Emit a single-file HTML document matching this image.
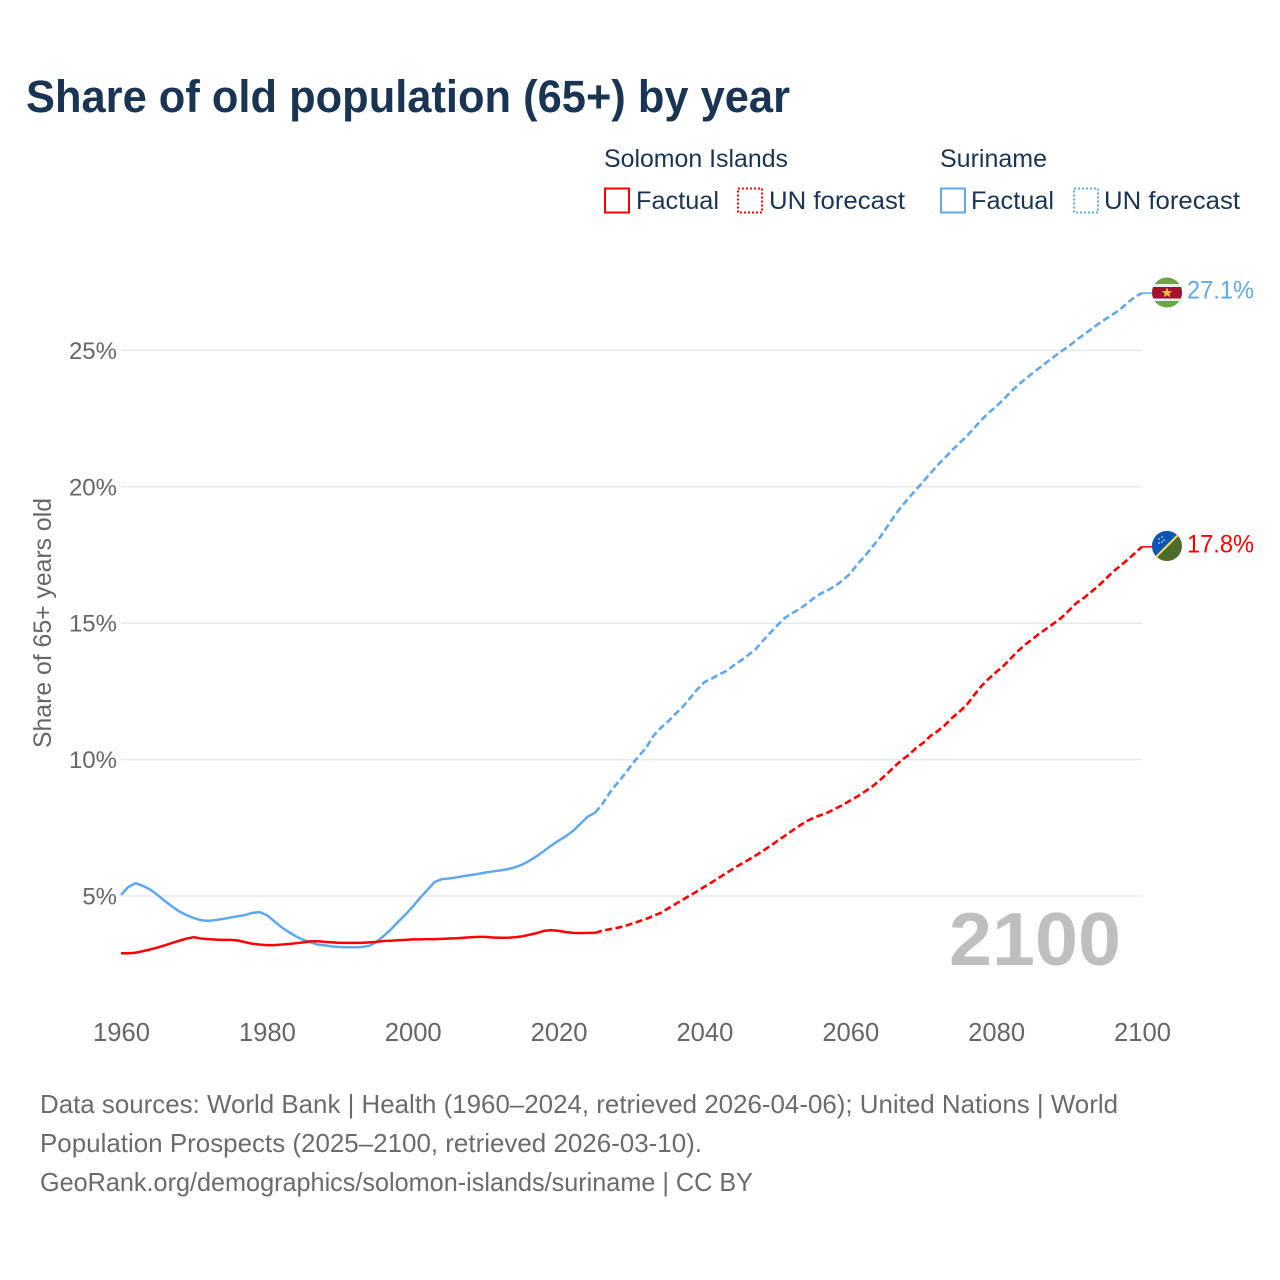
<!DOCTYPE html>
<html lang="en">
<head>
<meta charset="utf-8">
<title>Share of old population (65+) by year</title>
<style>
html,body{margin:0;padding:0;background:#fff;}
svg{display:block;font-family:"Liberation Sans",sans-serif;}
</style>
</head>
<body>
<svg id="chart" xmlns="http://www.w3.org/2000/svg" width="1280" height="1280" viewBox="0 0 1280 1280">
  <rect width="1280" height="1280" fill="#fff"/>
  <text x="26" y="112" font-size="45" font-weight="700" fill="#1a3454" textLength="764" lengthAdjust="spacingAndGlyphs">Share of old population (65+) by year</text>

  <g font-size="25" fill="#1a3454">
    <text x="604" y="167" textLength="184" lengthAdjust="spacingAndGlyphs">Solomon Islands</text>
    <rect x="605" y="188.5" width="24" height="24" fill="none" stroke="#ff0000" stroke-width="2"/>
    <text x="636" y="209" textLength="83" lengthAdjust="spacingAndGlyphs">Factual</text>
    <rect x="738" y="188.5" width="24" height="24" fill="none" stroke="#ff0000" stroke-width="2" stroke-dasharray="2 2"/>
    <text x="769" y="209" textLength="136" lengthAdjust="spacingAndGlyphs">UN forecast</text>
    <text x="940" y="167" textLength="107" lengthAdjust="spacingAndGlyphs">Suriname</text>
    <rect x="941" y="188.5" width="24" height="24" fill="none" stroke="#5fa8ee" stroke-width="2"/>
    <text x="971" y="209" textLength="83" lengthAdjust="spacingAndGlyphs">Factual</text>
    <rect x="1074" y="188.5" width="24" height="24" fill="none" stroke="#5fa8ee" stroke-width="2" stroke-dasharray="2 2"/>
    <text x="1104" y="209" textLength="136" lengthAdjust="spacingAndGlyphs">UN forecast</text>
  </g>

  <text transform="translate(51,748) rotate(-90)" font-size="25" fill="#666666" textLength="250" lengthAdjust="spacingAndGlyphs">Share of 65+ years old</text>

  <g id="grid"></g>
  <g id="yticks" font-size="24" fill="#666666" text-anchor="end"></g>
  <g id="xticks" font-size="25.6" fill="#666666" text-anchor="middle"></g>

  <text x="949" y="965" font-size="75" font-weight="700" fill="#bfbfbf" textLength="172" lengthAdjust="spacingAndGlyphs">2100</text>

  <g id="series" fill="none" stroke-linejoin="round"></g>

  <defs>
    <clipPath id="clip-sr"><circle id="clip-sr-c" cx="1167" cy="292.5" r="15"/></clipPath>
    <clipPath id="clip-sb"><circle id="clip-sb-c" cx="1167" cy="546" r="15"/></clipPath>
  </defs>

  <g clip-path="url(#clip-sr)">
    <rect x="1150" y="275" width="34" height="36" fill="#6ba544"/>
    <rect x="1150" y="284" width="34" height="17" fill="#ececec"/>
    <rect x="1150" y="287" width="34" height="11.5" fill="#a3102c"/>
    <polygon points="1167,287.5 1168.4,291.2 1172.3,291.2 1169.2,293.6 1170.3,297.3 1167,295.1 1163.7,297.3 1164.8,293.6 1161.7,291.2 1165.6,291.2" fill="#f5c838"/>
  </g>
  <g clip-path="url(#clip-sb)">
    <rect x="1150" y="529" width="34" height="34" fill="#4c6b2c"/>
    <polygon points="1150,529 1184,529 1150,563" fill="#0c55b5"/>
    <line x1="1153" y1="560" x2="1181" y2="532" stroke="#f2d75a" stroke-width="2.2"/>
    <g fill="#e8eef8">
      <circle cx="1159" cy="539" r="0.8"/><circle cx="1162" cy="537" r="0.8"/><circle cx="1164" cy="540" r="0.8"/>
      <circle cx="1159" cy="543" r="0.8"/><circle cx="1162" cy="542" r="0.8"/>
    </g>
  </g>

  <g font-size="26" fill="#6b6b6b">
    <text x="40" y="1113" textLength="1078" lengthAdjust="spacingAndGlyphs">Data sources: World Bank | Health (1960–2024, retrieved 2026-04-06); United Nations | World</text>
    <text x="40" y="1152" textLength="662" lengthAdjust="spacingAndGlyphs">Population Prospects (2025–2100, retrieved 2026-03-10).</text>
    <text x="40" y="1191" textLength="713" lengthAdjust="spacingAndGlyphs">GeoRank.org/demographics/solomon-islands/suriname | CC BY</text>
  </g>
</svg>

<script>
const xTickYears = [1960, 1980, 2000, 2020, 2040, 2060, 2080, 2100];
const yTickValues = [5, 10, 15, 20, 25];
const factualStartYear = 1960;
const forecastStartYear = 2025;

const solomonFactual = [2.90,2.90,2.92,2.98,3.04,3.11,3.19,3.28,3.36,3.44,3.49,3.44,3.42,3.40,3.39,3.39,3.37,3.31,3.25,3.22,3.20,3.20,3.22,3.24,3.27,3.30,3.34,3.34,3.32,3.30,3.28,3.28,3.28,3.28,3.30,3.32,3.35,3.36,3.38,3.39,3.41,3.41,3.42,3.42,3.43,3.44,3.45,3.47,3.49,3.50,3.50,3.48,3.47,3.47,3.49,3.52,3.58,3.64,3.72,3.75,3.72,3.68,3.65,3.64,3.65,3.65];

const surinameFactual = [5.04,5.33,5.47,5.37,5.24,5.04,4.82,4.62,4.43,4.30,4.19,4.11,4.09,4.12,4.16,4.21,4.26,4.30,4.38,4.41,4.30,4.08,3.86,3.68,3.52,3.39,3.30,3.22,3.19,3.15,3.13,3.12,3.12,3.13,3.17,3.31,3.53,3.77,4.05,4.32,4.61,4.93,5.22,5.51,5.62,5.64,5.68,5.73,5.77,5.81,5.86,5.90,5.94,5.98,6.05,6.15,6.29,6.46,6.65,6.85,7.03,7.19,7.39,7.65,7.91,8.05];

const solomonForecast = [3.65,3.73,3.78,3.83,3.89,3.98,4.07,4.16,4.27,4.38,4.54,4.70,4.86,5.02,5.17,5.34,5.50,5.67,5.84,6.01,6.17,6.32,6.48,6.65,6.83,7.02,7.20,7.39,7.57,7.74,7.87,7.97,8.07,8.21,8.34,8.50,8.65,8.83,9.01,9.23,9.47,9.73,9.97,10.17,10.42,10.61,10.87,11.05,11.27,11.54,11.76,12.02,12.37,12.70,12.97,13.21,13.43,13.71,13.98,14.22,14.42,14.63,14.82,15.01,15.21,15.47,15.74,15.92,16.14,16.36,16.62,16.88,17.10,17.32,17.56,17.80];

const surinameForecast = [8.05,8.37,8.78,9.12,9.44,9.80,10.13,10.43,10.87,11.16,11.39,11.67,11.93,12.24,12.57,12.84,12.97,13.12,13.25,13.45,13.63,13.83,14.04,14.35,14.64,14.92,15.19,15.36,15.52,15.70,15.92,16.09,16.22,16.38,16.58,16.82,17.17,17.46,17.79,18.12,18.51,18.91,19.27,19.59,19.89,20.19,20.50,20.80,21.07,21.35,21.61,21.86,22.16,22.45,22.72,22.94,23.20,23.48,23.73,23.95,24.17,24.37,24.58,24.78,24.98,25.16,25.38,25.57,25.77,25.97,26.15,26.32,26.50,26.74,26.96,27.10];

const NS = 'http://www.w3.org/2000/svg';
const RED = '#ff0000';
const BLUE = '#5fa8ee';

function xScale(year) { return 121 + (year - 1960) * (1142 - 121) / 140; }
function yScale(value) { return 1032.4 - value * 27.28; }

function make(tag, attrs, parent) {
  const el = document.createElementNS(NS, tag);
  for (const k in attrs) el.setAttribute(k, attrs[k]);
  parent.appendChild(el);
  return el;
}

function pathFor(values, startYear) {
  return values.map(function (v, i) {
    return (i ? 'L' : 'M') + xScale(startYear + i).toFixed(2) + ' ' + yScale(v).toFixed(2);
  }).join(' ');
}

const grid = document.getElementById('grid');
const yticks = document.getElementById('yticks');
const xticks = document.getElementById('xticks');
const series = document.getElementById('series');

yTickValues.forEach(function (v) {
  const line = make('line', { x1: xScale(1960), x2: xScale(2100), y1: yScale(v), y2: yScale(v), stroke: '#e9e9e9', 'stroke-width': 1.5 }, grid);
  
  
  const label = make('text', { x: 117, y: yScale(v) + 8.5 }, yticks);
  label.textContent = v + '%';
  
  
});

xTickYears.forEach(function (year) {
  const label = make('text', { x: xScale(year) + 0.5, y: 1041 }, xticks);
  label.textContent = String(year);
  
  
});

const surinameFactualLine = make('path', { d: pathFor(surinameFactual, factualStartYear), stroke: BLUE, 'stroke-width': 2.5 }, series);



const surinameForecastLine = make('path', { d: pathFor(surinameForecast, forecastStartYear), stroke: BLUE, 'stroke-width': 2.6, 'stroke-dasharray': '7 3.5' }, series);



const solomonFactualLine = make('path', { d: pathFor(solomonFactual, factualStartYear), stroke: RED, 'stroke-width': 2.5 }, series);



const solomonForecastLine = make('path', { d: pathFor(solomonForecast, forecastStartYear), stroke: RED, 'stroke-width': 2.6, 'stroke-dasharray': '7 3.5' }, series);



const surinameLast = surinameForecast[surinameForecast.length - 1];
const solomonLast = solomonForecast[solomonForecast.length - 1];

const surinameConnector = make('line', { x1: xScale(2100), x2: 1152, y1: yScale(surinameLast), y2: yScale(surinameLast), stroke: BLUE, 'stroke-width': 1.5 }, series);



const solomonConnector = make('line', { x1: xScale(2100), x2: 1152, y1: yScale(solomonLast), y2: yScale(solomonLast), stroke: RED, 'stroke-width': 1.5 }, series);



const surinameEndLabel = make('text', { x: 1187, y: yScale(surinameLast) + 5.5, 'font-size': 25, fill: BLUE, stroke: 'none', textLength: 67, lengthAdjust: 'spacingAndGlyphs' }, series);
surinameEndLabel.textContent = surinameLast.toFixed(1) + '%';



const solomonEndLabel = make('text', { x: 1187, y: yScale(solomonLast) + 5.5, 'font-size': 25, fill: RED, stroke: 'none', textLength: 67, lengthAdjust: 'spacingAndGlyphs' }, series);
solomonEndLabel.textContent = solomonLast.toFixed(1) + '%';


</script>
</body>
</html>
